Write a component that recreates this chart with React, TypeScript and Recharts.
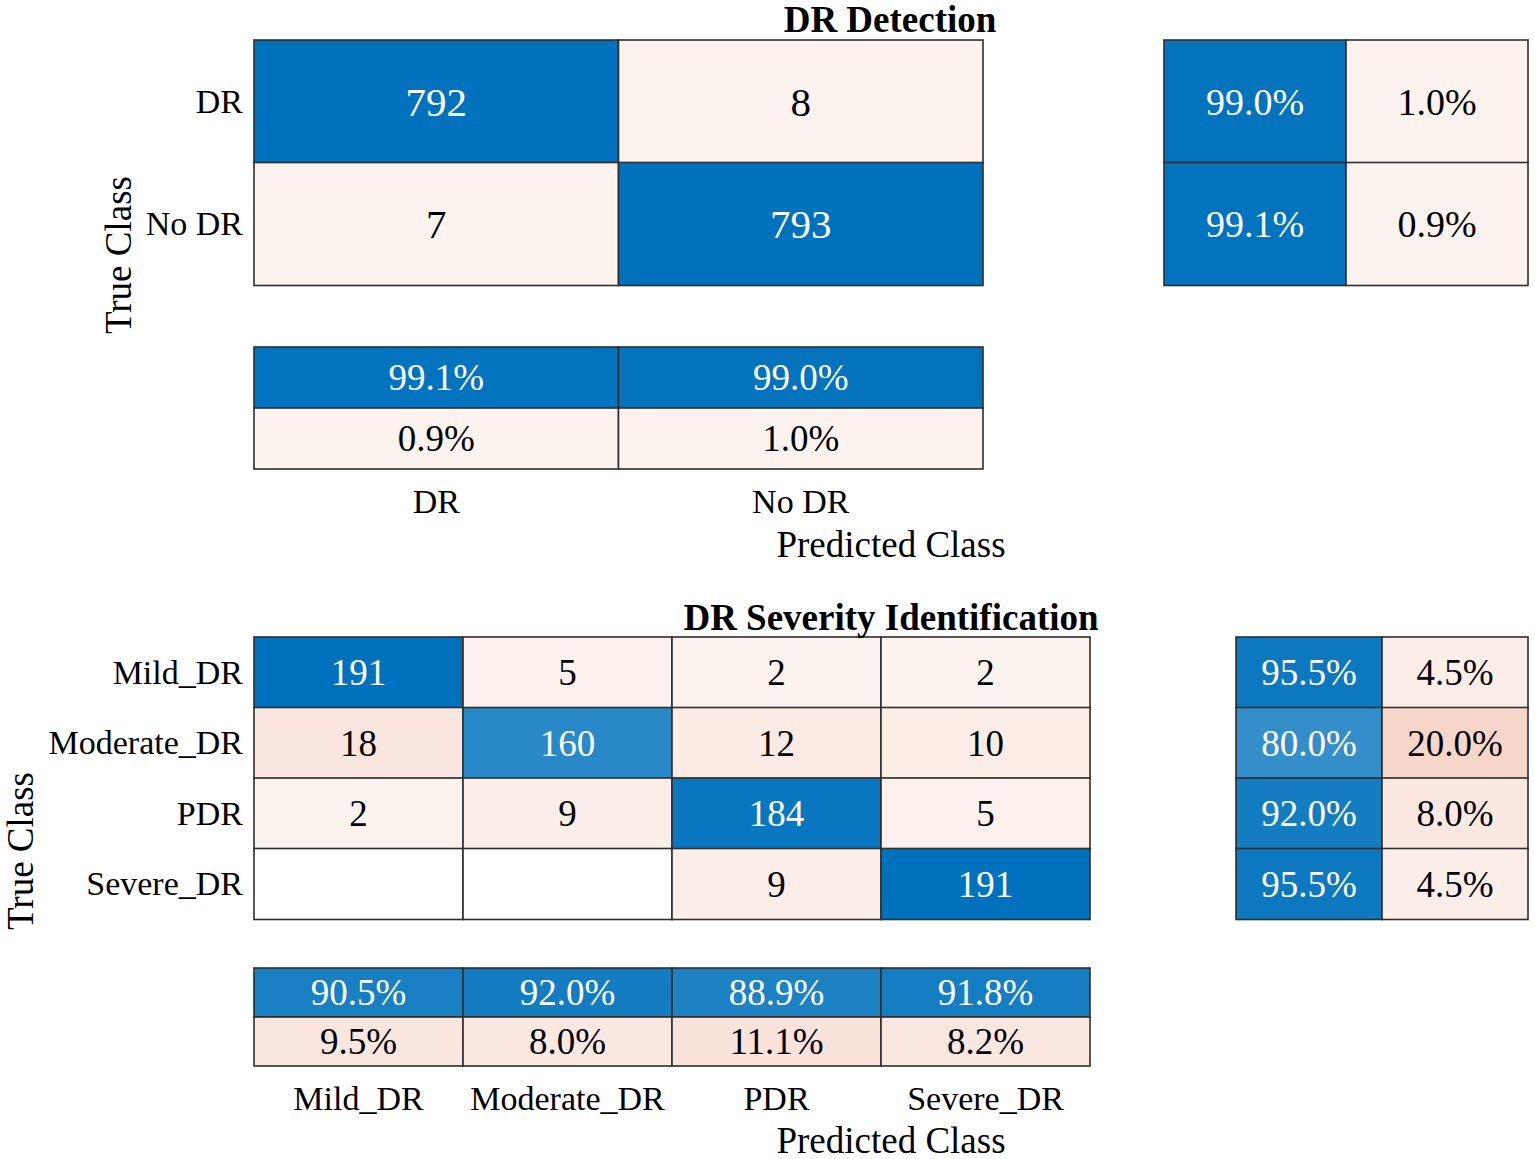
import { BarChart, Bar, XAxis, YAxis } from 'recharts';

const FONT = '"Liberation Serif", "Times New Roman", Times, serif';
const BLUE = [0, 114, 189];
const ORANGE = [217, 83, 25];

// DR detection (binary)
const detClasses = ['DR', 'No DR'];
const detCounts = [
  [792, 8],
  [7, 793],
];
const detRowTpr = [99.0, 99.1];
const detRowFnr = [1.0, 0.9];
const detColPrecision = [99.1, 99.0];
const detColFdr = [0.9, 1.0];

// DR severity (4 classes)
const sevClasses = ['Mild_DR', 'Moderate_DR', 'PDR', 'Severe_DR'];
const sevCounts = [
  [191, 5, 2, 2],
  [18, 160, 12, 10],
  [2, 9, 184, 5],
  [0, 0, 9, 191],
];
const sevRowTpr = [95.5, 80.0, 92.0, 95.5];
const sevRowFnr = [4.5, 20.0, 8.0, 4.5];
const sevColPrecision = [90.5, 92.0, 88.9, 91.8];
const sevColFdr = [9.5, 8.0, 11.1, 8.2];

type Tile = { text: string; fill: string; ink: string };

function mix(c: number[], t: number) {
  const v = c.map((k) => Math.round(255 + (k - 255) * Math.max(0, Math.min(1, t))));
  return `rgb(${v[0]},${v[1]},${v[2]})`;
}
const goodTile = (text: string, frac: number): Tile => ({ text, fill: mix(BLUE, frac), ink: '#fff' });
const badTile = (text: string, frac: number): Tile =>
  frac <= 0 ? { text, fill: '#fff', ink: '#000' } : { text, fill: mix(ORANGE, 0.06 + 0.9 * frac), ink: '#000' };

function countTiles(counts: number[][]): Tile[][] {
  const max = Math.max(...counts.flat());
  return counts.map((row, i) =>
    row.map((v, j) => (i === j ? goodTile(String(v), v / max) : badTile(v ? String(v) : '', v / max)))
  );
}
const pct = (v: number) => `${v.toFixed(1)}%`;
const rowTiles = (tpr: number[], fnr: number[]) => tpr.map((t, i) => [goodTile(pct(t), t / 100), badTile(pct(fnr[i]), fnr[i] / 100)]);
const colTiles = (prec: number[], fdr: number[]) => [
  prec.map((p) => goodTile(pct(p), p / 100)),
  fdr.map((f) => badTile(pct(f), f / 100)),
];

function TileGrid({
  x, y, w, h, tiles, rowLabels, colLabels, labelW = 0, fontSize = 37, labelSize = 34,
}: {
  x: number; y: number; w: number; h: number; tiles: Tile[][];
  rowLabels?: string[]; colLabels?: string[]; labelW?: number; fontSize?: number; labelSize?: number;
}) {
  const nCols = tiles[0].length;
  const data = tiles.map((r, i) => {
    const o: any = { row: rowLabels ? rowLabels[i] : `r${i}`, ri: i };
    r.forEach((_, j) => (o[`c${j}`] = 1));
    return o;
  });
  const pad = 2;
  const axisH = colLabels ? 60 : 0;
  const lw = rowLabels ? labelW : 0;
  return (
    <div style={{ position: 'absolute', left: x - lw - pad, top: y - pad }}>
      <BarChart
        layout="vertical"
        width={lw + w + 2 * pad}
        height={h + 2 * pad + axisH}
        data={data}
        margin={{ top: pad, right: pad, bottom: pad, left: pad }}
        barCategoryGap={0}
      >
        <XAxis
          type="number"
          domain={[0, nCols]}
          ticks={tiles[0].map((_, j) => j + 0.5)}
          hide={!colLabels}
          height={axisH}
          axisLine={false}
          tickLine={false}
          tickSize={0}
          tickMargin={0}
          interval={0}
          tick={(p: any) => (
            <text x={p.x} y={p.y + 32} textAnchor="middle" dominantBaseline="central" fontSize={labelSize} fontFamily={FONT} fill="#000">
              {colLabels ? colLabels[Math.floor(p.payload.value)] : ''}
            </text>
          )}
        />
        <YAxis
          type="category"
          dataKey="row"
          hide={!rowLabels}
          width={lw}
          axisLine={false}
          tickLine={false}
          tickSize={0}
          tickMargin={0}
          interval={0}
          tick={(p: any) => (
            <text x={p.x - 11} y={p.y} textAnchor="end" dominantBaseline="central" fontSize={labelSize} fontFamily={FONT} fill="#000">
              {p.payload.value}
            </text>
          )}
        />
        {tiles[0].map((_, j) => (
          <Bar
            key={`c${j}`}
            dataKey={`c${j}`}
            stackId="m"
            isAnimationActive={false}
            shape={(p: any) => {
              const t = tiles[p.payload.ri][j];
              return (
                <g>
                  <rect x={p.x} y={p.y} width={p.width} height={p.height} fill={t.fill} stroke="#2e2e2e" strokeWidth={1.6} />
                  {t.text ? (
                    <text
                      x={p.x + p.width / 2}
                      y={p.y + p.height / 2}
                      textAnchor="middle"
                      dominantBaseline="central"
                      fontSize={fontSize}
                      fontFamily={FONT}
                      fill={t.ink}
                    >
                      {t.text}
                    </text>
                  ) : null}
                </g>
              );
            }}
          />
        ))}
      </BarChart>
    </div>
  );
}

function Titles() {
  const common = { fontFamily: FONT, fill: '#000', textAnchor: 'middle' as const, dominantBaseline: 'central' as const };
  return (
    <svg width={1535} height={1159} style={{ position: 'absolute', left: 0, top: 0, pointerEvents: 'none' }}>
      <text x={890} y={19} fontSize={37} fontWeight="bold" {...common}>DR Detection</text>
      <text x={118} y={255} fontSize={37} transform="rotate(-90 118 255)" {...common}>True Class</text>
      <text x={891} y={544} fontSize={37} {...common}>Predicted Class</text>
      <text x={891} y={617} fontSize={37} fontWeight="bold" {...common}>DR Severity Identification</text>
      <text x={20} y={851} fontSize={37} transform="rotate(-90 20 851)" {...common}>True Class</text>
      <text x={891} y={1140} fontSize={37} {...common}>Predicted Class</text>
    </svg>
  );
}

export default function App() {
  return (
    <div style={{ position: 'absolute', left: 0, top: 0, width: 1535, height: 1159, background: '#fff', overflow: 'hidden' }}>
      <TileGrid x={254} y={40} w={729} h={245} tiles={countTiles(detCounts)} rowLabels={detClasses} labelW={250} fontSize={41} />
      <TileGrid x={1164} y={40} w={364} h={245} tiles={rowTiles(detRowTpr, detRowFnr)} fontSize={38} />
      <TileGrid x={254} y={347} w={729} h={122} tiles={colTiles(detColPrecision, detColFdr)} colLabels={detClasses} fontSize={37} />

      <TileGrid x={254} y={637} w={836} h={282} tiles={countTiles(sevCounts)} rowLabels={sevClasses} labelW={250} fontSize={37} />
      <TileGrid x={1236} y={637} w={292} h={282} tiles={rowTiles(sevRowTpr, sevRowFnr)} fontSize={37} />
      <TileGrid x={254} y={968} w={836} h={98} tiles={colTiles(sevColPrecision, sevColFdr)} colLabels={sevClasses} fontSize={37} />
      <Titles />
    </div>
  );
}
